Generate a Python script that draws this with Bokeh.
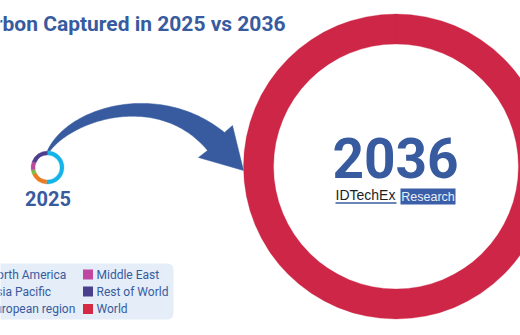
import numpy as np
from bokeh.plotting import figure
from bokeh.models import Range1d, ColumnDataSource, BoxAnnotation
from bokeh.core.properties import value
from bokeh.embed import file_html
from bokeh.resources import INLINE

# ---------------- data ----------------
title_text = "Carbon Captured in 2025 vs 2036"
regions_2025 = ["North America", "Asia Pacific", "European region", "Middle East", "Rest of World"]
share_2025 = [51.0, 17.0, 4.5, 8.5, 19.0]
colors_2025 = ["#14B4E9", "#EC7A1F", "#7BBE43", "#BC4A9C", "#4E3F8E"]
share_2036 = [100.0]
regions_2036 = ["World"]
colors_2036 = ["#CD2646"]
legend_labels = ["North America", "Asia Pacific", "European region", "Middle East", "Rest of World", "World"]
legend_colors = ["#14B4E9", "#EC7A1F", "#7BBE43", "#C0479F", "#4A3F8C", "#D42A45"]
year_labels = ["2025", "2036"]

BLUE = "#375B9E"
W, H = 520, 335


def Y(py):
    return H - py


p = figure(width=W, height=H, x_range=Range1d(0, W), y_range=Range1d(0, H),
           output_backend="svg", toolbar_location=None, min_border=0,
           background_fill_color="white", border_fill_color="white")
p.axis.visible = False
p.grid.visible = False
p.outline_line_color = None

# legend background (under everything)
p.add_layout(BoxAnnotation(left=-60, right=173, top=Y(263), bottom=Y(319), level="underlay",
                           fill_color="#E4EDF8", fill_alpha=1, line_color=None, border_radius=6))


# ---------------- arrow ----------------
def bez(p0, p1, p2, p3, n=80):
    t = np.linspace(0, 1, n)[:, None]
    p0, p1, p2, p3 = map(np.array, (p0, p1, p2, p3))
    return (1 - t) ** 3 * p0 + 3 * (1 - t) ** 2 * t * p1 + 3 * (1 - t) * t ** 2 * p2 + t ** 3 * p3


top = bez((47, 150), (68, 105), (160, 80), (224, 132))
bot = bez((49, 151), (75, 117), (160, 93), (207, 150))
head = np.array([(232, 125), (243, 170), (198, 157)])
poly = np.vstack([top, head, bot[::-1]])
p.patch(poly[:, 0], H - poly[:, 1], fill_color=BLUE, line_color=BLUE, line_width=0.5)


# ---------------- rings ----------------
def ring(cx, cy, r_in, r_out, shares, colors):
    tot = sum(shares)
    cum = np.concatenate([[0], np.cumsum(shares)]) / tot
    start = np.pi / 2 - cum[:-1] * 2 * np.pi
    end = np.pi / 2 - cum[1:] * 2 * np.pi
    src = ColumnDataSource(dict(x=[cx] * len(shares), y=[cy] * len(shares),
                                start=start, end=end, color=colors))
    p.annular_wedge(x="x", y="y", inner_radius=r_in, outer_radius=r_out,
                    start_angle="start", end_angle="end", direction="clock",
                    fill_color="color", line_color="color", line_width=0.3, source=src)


ring(395.5, Y(166), 122.5, 152.5, share_2036, colors_2036)
ring(47, Y(167), 12.5, 16.5, share_2025, colors_2025)

# ---------------- texts ----------------
p.text(x=[285], y=[Y(23.5)], text=[title_text], text_align="right", text_baseline="middle",
       text_font=value("Roboto"), text_font_style="bold", text_font_size="21px", text_color=BLUE)

p.text(x=[47.5], y=[Y(198)], text=[year_labels[0]], text_align="center", text_baseline="middle",
       text_font=value("Roboto"), text_font_style="bold", text_font_size="20px", text_color=BLUE)

p.text(x=[395], y=[Y(157.5)], text=[year_labels[1]], text_align="center", text_baseline="middle",
       text_font=value("Roboto"), text_font_style="bold", text_font_size="55px", text_color=BLUE)

# logo
p.text(x=[335], y=[Y(194.5)], text=["IDTechEx"], text_align="left", text_baseline="middle",
       text_font=value("Liberation Sans"), text_font_size="14px", text_color="#1E1E1E")
p.segment(x0=[335], y0=[Y(202.5)], x1=[396], y1=[Y(202.5)], line_color=BLUE, line_width=1.5)
p.quad(left=[400], right=[455], top=[Y(188)], bottom=[Y(204)], fill_color="#3A5EA8", line_color=None)
p.text(x=[427.5], y=[Y(196.5)], text=["Research"], text_align="center", text_baseline="middle",
       text_font=value("Liberation Sans"), text_font_size="12.5px", text_color="#E8EEF8")

# ---------------- legend ----------------
rows_py = [274, 291, 308.5]
lx = [-25, -25, -25, 87.5, 87.5, 87.5]
tx = [-12, -12, -12, 96, 96, 96]
ly = [Y(r) for r in rows_py] * 2
lsrc = ColumnDataSource(dict(mx=lx, tx=tx, y=ly, label=legend_labels, color=legend_colors))
p.scatter(x="mx", y="y", marker="square", size=10, fill_color="color", line_color=None, source=lsrc)
p.text(x="tx", y="y", text="label", text_align="left", text_baseline="middle",
       text_font=value("Roboto"), text_font_size="12px", text_color=BLUE, source=lsrc)

open("out.html", "w").write(file_html(p, INLINE))
